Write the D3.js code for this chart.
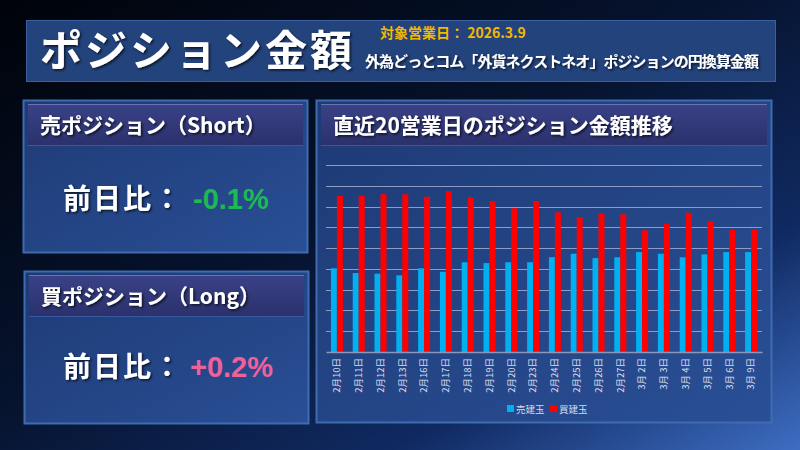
<!DOCTYPE html>
<html lang="ja">
  <head>
    <meta charset="UTF-8" />
    <title>ポジション金額</title>
    <script src="https://d3js.org/d3.v7.min.js"></script>
    <style>
      body { margin: 0; background: #000; }
      text { font-family: "Noto Sans CJK JP", "Noto Sans", sans-serif; }
    </style>
  </head>
  <body>
    <div id="chart"></div>

    <script>
      // 日付ラベル
      const dates = [
        "2月10日", "2月11日", "2月12日", "2月13日", "2月16日",
        "2月17日", "2月18日", "2月19日", "2月20日", "2月23日",
        "2月24日", "2月25日", "2月26日", "2月27日", "3月 2日",
        "3月 3日", "3月 4日", "3月 5日", "3月 6日", "3月 9日"
      ];
      // 売建玉 (軸目盛りなし、目盛り線の単位で読み取り)
      const shortValues = [
        4.03, 3.80, 3.77, 3.69, 4.03, 3.86, 4.32, 4.28, 4.32, 4.32,
        4.56, 4.73, 4.52, 4.56, 4.81, 4.73, 4.56, 4.70, 4.81, 4.81
      ];
      // 買建玉
      const longValues = [
        7.51, 7.52, 7.60, 7.59, 7.47, 7.75, 7.44, 7.27, 6.92, 7.27,
        6.72, 6.48, 6.66, 6.63, 5.86, 6.18, 6.70, 6.30, 5.87, 5.90
      ];
      const seriesNames = ["売建玉", "買建玉"];
      const seriesColors = ["#00b0f0", "#ff0000"];
      const yTicks = [1, 2, 3, 4, 5, 6, 7, 8, 9];

      const W = 800, H = 450;
      const data = dates.map((d, i) => ({ date: d, "売建玉": shortValues[i], "買建玉": longValues[i] }));

      const svg = d3.select("#chart").append("svg")
        .attr("width", W).attr("height", H);

      const defs = svg.append("defs");
      const bg = defs.append("linearGradient").attr("id", "bg")
        .attr("x1", 0).attr("y1", 0).attr("x2", 1).attr("y2", 1);
      bg.append("stop").attr("offset", "0%").attr("stop-color", "#000309");
      bg.append("stop").attr("offset", "45%").attr("stop-color", "#06132e");
      bg.append("stop").attr("offset", "75%").attr("stop-color", "#102a62");
      bg.append("stop").attr("offset", "100%").attr("stop-color", "#3e6dc2");

      const pnl = defs.append("linearGradient").attr("id", "pnl")
        .attr("x1", 0).attr("y1", 0).attr("x2", 1).attr("y2", 1);
      pnl.append("stop").attr("offset", "0%").attr("stop-color", "#1d3a74");
      pnl.append("stop").attr("offset", "100%").attr("stop-color", "#2a4f96");

      const hdr = defs.append("linearGradient").attr("id", "hdr")
        .attr("x1", 0).attr("y1", 0).attr("x2", 0).attr("y2", 1);
      hdr.append("stop").attr("offset", "0%").attr("stop-color", "#3a4288");
      hdr.append("stop").attr("offset", "100%").attr("stop-color", "#2a316c");

      const shadow = defs.append("filter").attr("id", "shadow")
        .attr("x", "-10%").attr("y", "-10%").attr("width", "120%").attr("height", "130%");
      shadow.append("feDropShadow").attr("dx", 1.5).attr("dy", 1.5)
        .attr("stdDeviation", 1).attr("flood-color", "#000").attr("flood-opacity", 0.7);

      svg.append("rect").attr("width", W).attr("height", H).attr("fill", "url(#bg)");

      // タイトル
      svg.append("rect")
        .attr("x", 26.5).attr("y", 20.5).attr("width", 749).attr("height", 61)
        .attr("fill", "#23437c").attr("stroke", "#3b5fa0");
      svg.append("text")
        .attr("x", 40).attr("y", 66)
        .attr("fill", "#fff").attr("font-size", 42).attr("font-weight", "bold")
        .attr("textLength", 312).attr("filter", "url(#shadow)")
        .text("ポジション金額");
      svg.append("text")
        .attr("x", 380).attr("y", 38)
        .attr("fill", "#f5b800").attr("font-size", 14).attr("font-weight", "bold")
        .text("対象営業日：  2026.3.9");
      svg.append("text")
        .attr("x", 365).attr("y", 67)
        .attr("fill", "#fff").attr("font-size", 15).attr("font-weight", "bold")
        .attr("textLength", 394).attr("filter", "url(#shadow)")
        .text("外為どっとコム「外貨ネクストネオ」ポジションの円換算金額");

      // パネル
      function panel(x, y, w, h, title, titleSize) {
        const g = svg.append("g");
        g.append("rect").attr("x", x + 0.5).attr("y", y + 0.5)
          .attr("width", w).attr("height", h)
          .attr("fill", "url(#pnl)").attr("stroke", "#3f6cb0").attr("stroke-width", 2);
        g.append("rect").attr("x", x + 5).attr("y", y + 4)
          .attr("width", w - 9).attr("height", 41)
          .attr("fill", "url(#hdr)");
        g.append("line").attr("x1", x + 5).attr("x2", x + w - 4)
          .attr("y1", y + 4.5).attr("y2", y + 4.5)
          .attr("stroke", "#6a72b0").attr("stroke-width", 1);
        g.append("line").attr("x1", x + 5).attr("x2", x + w - 4)
          .attr("y1", y + 45.5).attr("y2", y + 45.5)
          .attr("stroke", "#3a58a0").attr("stroke-width", 1);
        g.append("text").attr("x", x + 17).attr("y", y + 33)
          .attr("fill", "#fff").attr("font-size", titleSize).attr("font-weight", "bold")
          .attr("filter", "url(#shadow)")
          .text(title);
        return g;
      }

      function ratio(g, y, value, fill, vx) {
        g.append("text").attr("x", 63).attr("y", y)
          .attr("fill", "#fff").attr("font-size", 28).attr("font-weight", "bold")
          .attr("filter", "url(#shadow)")
          .attr("letter-spacing", 2)
          .text("前日比：");
        g.append("text").attr("x", vx).attr("y", y)
          .attr("fill", fill).attr("font-size", 29).attr("font-weight", "bold")
          .style("font-family", "'Liberation Sans', Arial, sans-serif")
          .text(value);
      }

      const p1 = panel(23, 100, 284, 152, "売ポジション（Short）", 21);
      ratio(p1, 209, "-0.1%", "#1db954", 193);

      const p2 = panel(24, 271, 284, 152, "買ポジション（Long）", 21);
      ratio(p2, 377, "+0.2%", "#f2609a", 190);

      panel(316, 100, 455, 322, "直近20営業日のポジション金額推移", 21);

      // グラフ
      const x0 = d3.scaleBand().domain(dates).range([326, 762])
        .paddingInner(0.45).paddingOuter(0.225);
      const x1 = d3.scaleBand().domain(seriesNames).range([0, x0.bandwidth()]);
      const y = d3.scaleLinear().domain([0, 9]).range([352, 165]);
      const color = d3.scaleOrdinal().domain(seriesNames).range(seriesColors);

      svg.append("g")
        .selectAll("line")
        .data(yTicks)
        .join("line")
        .attr("x1", 326).attr("x2", 762)
        .attr("y1", (d) => Math.round(y(d)) + 0.5).attr("y2", (d) => Math.round(y(d)) + 0.5)
        .attr("stroke", "#8c9cc4").attr("stroke-width", 1);

      svg.append("g")
        .selectAll("g")
        .data(data)
        .join("g")
        .attr("transform", (d) => `translate(${x0(d.date)},0)`)
        .selectAll("rect")
        .data((d) => seriesNames.map((k) => ({ key: k, value: d[k] })))
        .join("rect")
        .attr("x", (d) => x1(d.key))
        .attr("width", x1.bandwidth())
        .attr("y", (d) => y(d.value))
        .attr("height", (d) => y(0) - y(d.value))
        .attr("fill", (d) => color(d.key));

      const xAxis = svg.append("g")
        .attr("transform", `translate(0,${y(0)})`)
        .call(d3.axisBottom(x0).tickSize(0).tickSizeOuter(0));
      xAxis.select(".domain").attr("stroke", "#8a98bc").attr("stroke-width", 1.5);
      xAxis.selectAll("text")
        .attr("fill", "#d6dcea")
        .attr("font-size", 9.5)
        .style("font-family", "'Noto Sans CJK JP', sans-serif")
        .attr("text-anchor", "end")
        .attr("dx", "-6")
        .attr("dy", "0.35em")
        .attr("y", 0)
        .attr("transform", "rotate(-90)");

      // 凡例
      const legend = svg.append("g")
        .selectAll("g")
        .data(seriesNames)
        .join("g")
        .attr("transform", (d, i) => `translate(${507 + i * 43},404)`);
      legend.append("rect")
        .attr("width", 7).attr("height", 7).attr("y", 1)
        .attr("fill", color);
      legend.append("text")
        .attr("x", 9).attr("y", 8.5)
        .attr("fill", "#d6dcea").attr("font-size", 9.5)
        .text((d) => d);
    </script>
  </body>
</html>
